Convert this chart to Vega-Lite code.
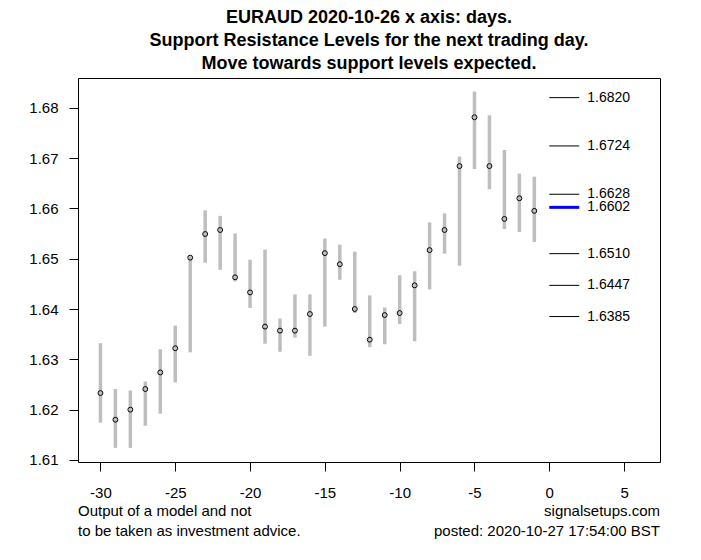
{
  "$schema": "https://vega.github.io/schema/vega-lite/v6.json",
  "width": 582,
  "height": 384,
  "autosize": {"type": "none"},
  "padding": {"left": 78, "top": 78, "right": 41, "bottom": 98},
  "background": "white",
  "title": {
    "text": ["EURAUD 2020-10-26 x axis: days.", "Support Resistance Levels for the next trading day.", "Move towards support levels expected."],
    "fontSize": 18,
    "fontWeight": "bold",
    "font": "Liberation Sans",
    "anchor": "middle",
    "frame": "group",
    "baseline": "bottom",
    "lineHeight": 23,
    "offset": 6,
    "dy": 19,
    "color": "black"
  },
  "config": {
    "view": {"stroke": "black", "strokeWidth": 1},
    "font": "Liberation Sans",
    "axis": {
      "grid": false,
      "domain": false,
      "tickColor": "black",
      "tickSize": 9,
      "labelColor": "black",
      "labelFontSize": 15,
      "labelFont": "Liberation Sans",
      "title": null
    }
  },
  "datasets": {
    "bars": [
      {"day": -30, "low": 1.6174, "high": 1.6332, "close": 1.6233},
      {"day": -29, "low": 1.6124, "high": 1.6241, "close": 1.6180},
      {"day": -28, "low": 1.6124, "high": 1.6238, "close": 1.6200},
      {"day": -27, "low": 1.6168, "high": 1.6256, "close": 1.6241},
      {"day": -26, "low": 1.6192, "high": 1.6320, "close": 1.6274},
      {"day": -25, "low": 1.6254, "high": 1.6367, "close": 1.6322},
      {"day": -24, "low": 1.6314, "high": 1.6505, "close": 1.6502},
      {"day": -23, "low": 1.6492, "high": 1.6596, "close": 1.6549},
      {"day": -22, "low": 1.6478, "high": 1.6585, "close": 1.6557},
      {"day": -21, "low": 1.6455, "high": 1.6550, "close": 1.6463},
      {"day": -20, "low": 1.6402, "high": 1.6498, "close": 1.6433},
      {"day": -19, "low": 1.6331, "high": 1.6518, "close": 1.6365},
      {"day": -18, "low": 1.6315, "high": 1.6381, "close": 1.6357},
      {"day": -17, "low": 1.6343, "high": 1.6429, "close": 1.6357},
      {"day": -16, "low": 1.6307, "high": 1.6429, "close": 1.6390},
      {"day": -15, "low": 1.6365, "high": 1.6540, "close": 1.6511},
      {"day": -14, "low": 1.6458, "high": 1.6528, "close": 1.6489},
      {"day": -13, "low": 1.6392, "high": 1.6514, "close": 1.6400},
      {"day": -12, "low": 1.6324, "high": 1.6427, "close": 1.6339},
      {"day": -11, "low": 1.6330, "high": 1.6403, "close": 1.6388},
      {"day": -10, "low": 1.6370, "high": 1.6467, "close": 1.6392},
      {"day": -9, "low": 1.6336, "high": 1.6475, "close": 1.6447},
      {"day": -8, "low": 1.6439, "high": 1.6572, "close": 1.6517},
      {"day": -7, "low": 1.6510, "high": 1.6590, "close": 1.6557},
      {"day": -6, "low": 1.6486, "high": 1.6703, "close": 1.6684},
      {"day": -5, "low": 1.6678, "high": 1.6832, "close": 1.6781},
      {"day": -4, "low": 1.6638, "high": 1.6785, "close": 1.6684},
      {"day": -3, "low": 1.6559, "high": 1.6716, "close": 1.6579},
      {"day": -2, "low": 1.6553, "high": 1.6669, "close": 1.6620},
      {"day": -1, "low": 1.6533, "high": 1.6663, "close": 1.6595}
    ],
    "levels": [
      {"level": 1.6820, "kind": "level"},
      {"level": 1.6724, "kind": "level"},
      {"level": 1.6628, "kind": "level"},
      {"level": 1.6602, "kind": "current"},
      {"level": 1.6510, "kind": "level"},
      {"level": 1.6447, "kind": "level"},
      {"level": 1.6385, "kind": "level"}
    ]
  },
  "layer": [
    {
      "data": {"name": "bars"},
      "mark": {"type": "rule", "color": "#BEBEBE", "strokeWidth": 3.5},
      "encoding": {
        "x": {
          "field": "day", "type": "quantitative",
          "scale": {"domain": [-31.5, 7.4], "nice": false, "zero": false},
          "axis": {"values": [-30, -25, -20, -15, -10, -5, 0, 5], "labelPadding": 14, "labelExpr": "toString(datum.value)"}
        },
        "y": {
          "field": "low", "type": "quantitative",
          "scale": {"domain": [1.6096, 1.6859], "nice": false, "zero": false},
          "axis": {"values": [1.61, 1.62, 1.63, 1.64, 1.65, 1.66, 1.67, 1.68], "format": ".2f", "labelPadding": 11}
        },
        "y2": {"field": "high"}
      }
    },
    {
      "data": {"name": "bars"},
      "mark": {"type": "point", "shape": "circle", "filled": false, "color": "black", "strokeWidth": 1, "size": 24, "opacity": 1},
      "encoding": {
        "x": {"field": "day", "type": "quantitative"},
        "y": {"field": "close", "type": "quantitative"}
      }
    },
    {
      "data": {"name": "levels"},
      "transform": [{"filter": "datum.kind === 'level'"}],
      "mark": {"type": "rule", "color": "black", "strokeWidth": 1},
      "encoding": {
        "x": {"datum": 0},
        "x2": {"datum": 2},
        "y": {"field": "level", "type": "quantitative"}
      }
    },
    {
      "data": {"name": "levels"},
      "transform": [{"filter": "datum.kind === 'current'"}],
      "mark": {"type": "rule", "color": "#0000FF", "strokeWidth": 3},
      "encoding": {
        "x": {"datum": 0},
        "x2": {"datum": 2},
        "y": {"field": "level", "type": "quantitative"}
      }
    },
    {
      "data": {"name": "levels"},
      "mark": {"type": "text", "align": "left", "baseline": "middle", "dx": 8, "fontSize": 14, "color": "black", "font": "Liberation Sans"},
      "encoding": {
        "x": {"datum": 2},
        "y": {"field": "level", "type": "quantitative"},
        "text": {"field": "level", "type": "quantitative", "format": ".4f"}
      }
    },
    {
      "data": {"values": [{}]},
      "mark": {"type": "text", "align": "left", "baseline": "alphabetic", "fontSize": 15, "lineHeight": 20, "color": "black", "font": "Liberation Sans",
        "text": ["Output of a model and not", "to be taken as investment advice."]},
      "encoding": {
        "x": {"datum": -31.5},
        "y": {"datum": 1.59887}
      }
    },
    {
      "data": {"values": [{}]},
      "mark": {"type": "text", "align": "right", "baseline": "alphabetic", "fontSize": 15, "lineHeight": 20, "color": "black", "font": "Liberation Sans",
        "text": ["signalsetups.com", "posted: 2020-10-27 17:54:00 BST"]},
      "encoding": {
        "x": {"datum": 7.4},
        "y": {"datum": 1.59887}
      }
    }
  ]
}
